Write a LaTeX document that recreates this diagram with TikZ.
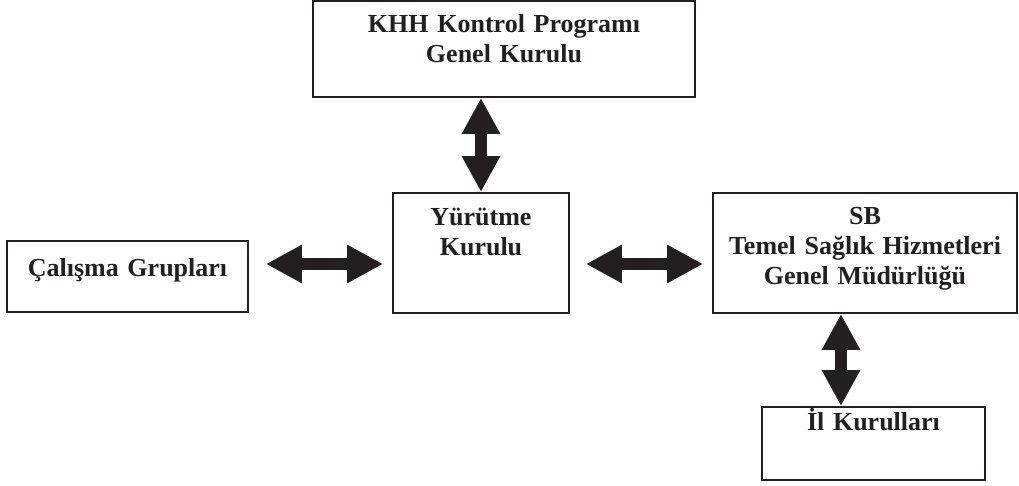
\documentclass[tikz,border=0pt]{standalone}
\usepackage{fontspec}
\setmainfont{Liberation Serif}
\usepackage{xcolor}
\usepackage{tikz}
\usetikzlibrary{arrows.meta, positioning}

\definecolor{ink}{RGB}{35,31,32}

\begin{document}
\begin{tikzpicture}[
  box/.style={draw=ink, line width=0.9pt, rectangle, inner sep=0pt, align=center,
    text=ink, font=\fontsize{13}{15}\selectfont\bfseries},
  dbl/.style={line width=6pt, draw=ink,
    {Triangle[length=18pt, width=18pt, fill=ink]}-{Triangle[length=18pt, width=18pt, fill=ink]}}
]
\useasboundingbox (0,0) rectangle (509.5pt,-243pt);

\node[box, text width=191pt, text height=16pt, text depth=32pt] (khh) at (252pt,-24.5pt)
  {KHH Kontrol Programı\\Genel Kurulu};
\node[box, text width=88pt, text height=16.5pt, text depth=43.5pt] (yur) at (240.5pt,-126.5pt)
  {Yürütme\\Kurulu};
\node[box, text width=120.5pt, text height=18pt, text depth=17.5pt] (calisma) at (63.75pt,-138.25pt)
  {Çalışma Grupları};
\node[box, text width=152pt, text height=16pt, text depth=44pt] (sb) at (432.5pt,-126.5pt)
  {SB\\Temel Sağlık Hizmetleri\\Genel Müdürlüğü};
\node[box, text width=111.5pt, text height=12pt, text depth=24.5pt] (il) at (436.75pt,-221.75pt)
  {İl Kurulları};

\draw[dbl] (khh.south -| yur.north) -- (yur.north);
\draw[dbl, shorten <=8.5pt, shorten >=4.5pt] ([yshift=6.25pt]calisma.east) -- ([yshift=-5.5pt]yur.west);
\draw[dbl, shorten <=8pt, shorten >=4.5pt] ([yshift=-5.5pt]yur.east) -- ([yshift=-5.5pt]sb.west);
\draw[dbl] ([xshift=-12pt]sb.south) -- ([xshift=-12pt]sb.south |- il.north);
\end{tikzpicture}
\end{document}
